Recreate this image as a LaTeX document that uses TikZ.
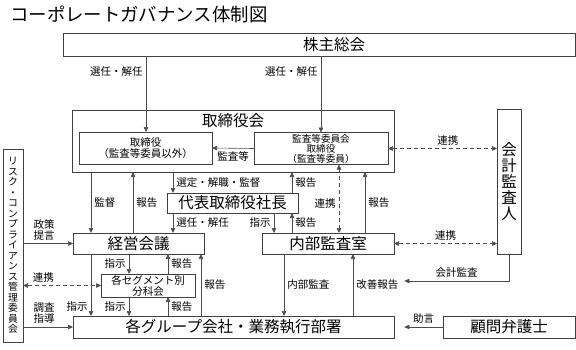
\documentclass[tikz,border=0pt]{standalone}
\usepackage{fontspec}
\setmainfont{Noto Sans CJK JP}
\usetikzlibrary{arrows.meta, positioning}

\begin{document}
\begin{tikzpicture}[x=1pt, y=-1pt,
  box/.style={draw=black!75, line width=0.6pt, inner sep=0pt, outer sep=0pt},
  big/.style={font=\fontsize{15.5}{17}\selectfont},
  note/.style={font=\fontsize{10.5}{11}\selectfont, inner sep=3pt},
  arr/.style={draw=black!70, line width=0.6pt, -{Triangle[length=5pt,width=4.5pt]}},
  darr/.style={draw=black!70, line width=0.6pt, dash pattern=on 4pt off 3pt,
    {Triangle[length=5pt,width=4.5pt]}-{Triangle[length=5pt,width=4.5pt]}}]
    \useasboundingbox (0,0) rectangle (576,349);

    % Title
    \node[anchor=west, inner sep=0pt, font=\fontsize{18.4}{20}\selectfont] (title) at (10,14) {コーポレートガバナンス体制図};

    % Boxes
    \node[box, big, minimum width=512pt, minimum height=23pt] (soukai) at (319,44.5) {\hspace*{30pt}株主総会};
    \node[draw=black!70, line width=0.7pt, double, double distance=2.2pt, inner sep=0pt, outer sep=1.8pt,
      minimum width=339pt, minimum height=259pt] (frame) at (233,216) {};
    \node[box, minimum width=322pt, minimum height=62pt] (bod) at (233,141) {};
    \node[big] (bodname) at (233,121) {取締役会};
    \node[box, note, inner sep=0pt, align=center, minimum width=133pt, minimum height=32pt] (dir) at (145.5,148) {取締役\\（監査等委員以外）};
    \node[box, inner sep=0pt, align=center, font=\fontsize{9.6}{10}\selectfont, minimum width=134pt, minimum height=32pt] (audit) at (321,148.5) {監査等委員会\\取締役\\（監査等委員）};
    \node[box, big, minimum width=131pt, minimum height=20pt] (pres) at (232.5,203) {代表取締役社長};
    \node[box, big, minimum width=131pt, minimum height=21pt] (keiei) at (138.5,243.5) {経営会議};
    \node[box, big, minimum width=132pt, minimum height=21pt] (naibu) at (328,243.5) {内部監査室};
    \node[box, note, inner sep=0pt, align=center, minimum width=94pt, minimum height=23pt] (seg) at (148,285.5) {各セグメント別\\分科会};
    \node[box, big, minimum width=321pt, minimum height=22pt] (group) at (233.5,327) {各グループ会社・業務執行部署};
    \node[box, align=center, font=\fontsize{15.5}{16.2}\selectfont, minimum width=24pt, minimum height=145pt] (kaikei) at (509,181.5) {会\\計\\監\\査\\人};
    \node[box, align=center, font=\fontsize{9.8}{10.5}\selectfont, minimum width=20pt, minimum height=193pt] (risk) at (13,245.5)
      {リ\\ス\\ク\\・\\コ\\ン\\プ\\ラ\\イ\\ア\\ン\\ス\\管\\理\\委\\員\\会};
    \node[box, big, minimum width=132pt, minimum height=22pt] (komon) at (509,327) {顧問弁護士};

    % Columns for vertical connectors
    \coordinate (c1) at (91,0);
    \coordinate (c2) at (129,0);
    \coordinate (c3) at (133,0);
    \coordinate (c4) at (146,0);
    \coordinate (c5) at (168,0);
    \coordinate (c6) at (173,0);
    \coordinate (c7) at (201,0);
    \coordinate (c8) at (274,0);
    \coordinate (c9) at (284,0);
    \coordinate (c10) at (292,0);
    \coordinate (c11) at (321,0);
    \coordinate (c12) at (339,0);
    \coordinate (c13) at (353,0);
    \coordinate (c14) at (365,0);
    \coordinate (c15) at (0,281);

    % Shareholders
    \draw[arr] (soukai.south -| c4) -- node[note, pos=0.2, left] (l1) {選任・解任} (dir.north -| c4);
    \draw[arr] (soukai.south -| c11) -- node[note, pos=0.2, left] (l2) {選任・解任} (audit.north -| c11);

    % Board
    \draw[arr] (audit.west) -- node[note, below] (l3) {監査等} (dir.east);
    \draw[darr] (audit.east) -- node[note, above, pos=0.55] (l4) {連携} (kaikei.west |- audit.east);
    \draw[arr] (bod.south -| c1) -- node[note, right] (l5) {監督} (keiei.north -| c1);
    \draw[arr] (keiei.north -| c3) -- node[note, right] (l6) {報告} (bod.south -| c3);
    \draw[arr] (bod.south -| c6) -- node[note, right] (l7) {選定・解職・監督} (pres.north -| c6);
    \draw[arr] (pres.north -| c10) -- node[note, right] (l8) {報告} (bod.south -| c10);
    \draw[darr] (audit.south -| c12) -- node[note, left, pos=0.57] (l9) {連携} (naibu.north -| c12);
    \draw[arr] (naibu.north -| c14) -- node[note, right] (l10) {報告} (bod.south -| c14);

    % President
    \draw[arr] (pres.south -| c6) -- node[note, right] (l11) {選任・解任} (keiei.north -| c6);
    \draw[arr] (pres.south -| c8) -- node[note, left] (l12) {指示} (naibu.north -| c8);
    \draw[arr] (naibu.north -| c10) -- node[note, right] (l13) {報告} (pres.south -| c10);

    % Risk committee
    \draw[arr] (risk.east |- keiei.west) -- node[note, above, align=center, pos=0.42] (l14) {政策\\提言} (keiei.west);
    \draw[darr] (risk.east |- seg.west) -- node[note, above, pos=0.26] (l15) {連携} (seg.west);
    \draw[arr] (risk.east |- group.west) -- node[note, above, align=center, pos=0.42] (l16) {調査\\指導} (group.west);

    % Management
    \draw[arr] (keiei.south -| c2) -- node[note, left] (l17) {指示} (seg.north -| c2);
    \draw[arr] (seg.north -| c5) -- node[note, right] (l18) {報告} (keiei.south -| c5);
    \draw[arr] (seg.south -| c2) -- node[note, left] (l19) {指示} (group.north -| c2);
    \draw[arr] (group.north -| c5) -- node[note, right] (l20) {報告} (seg.south -| c5);
    \draw[arr] (keiei.south -| c1) -- node[note, left, pos=0.84] (l21) {指示} (group.north -| c1);
    \draw[arr] (group.north -| c7) -- node[note, right] (l22) {報告} (keiei.south -| c7);
    \draw[arr] (naibu.south -| c9) -- node[note, right] (l23) {内部監査} (group.north -| c9);
    \draw[arr] (group.north -| c13) -- node[note, right] (l24) {改善報告} (naibu.south -| c13);

    % Auditor and lawyer
    \draw[darr] (naibu.east) -- node[note, above] (l25) {連携} (kaikei.west |- naibu.east);
    \draw[arr] (kaikei.south) |- node[note, above, pos=0.75] (l26) {会計監査} (frame.east |- c15);
    \draw[arr] (komon.west) -- node[note, above] (l27) {助言} (frame.east |- komon.west);
\end{tikzpicture}
\end{document}
